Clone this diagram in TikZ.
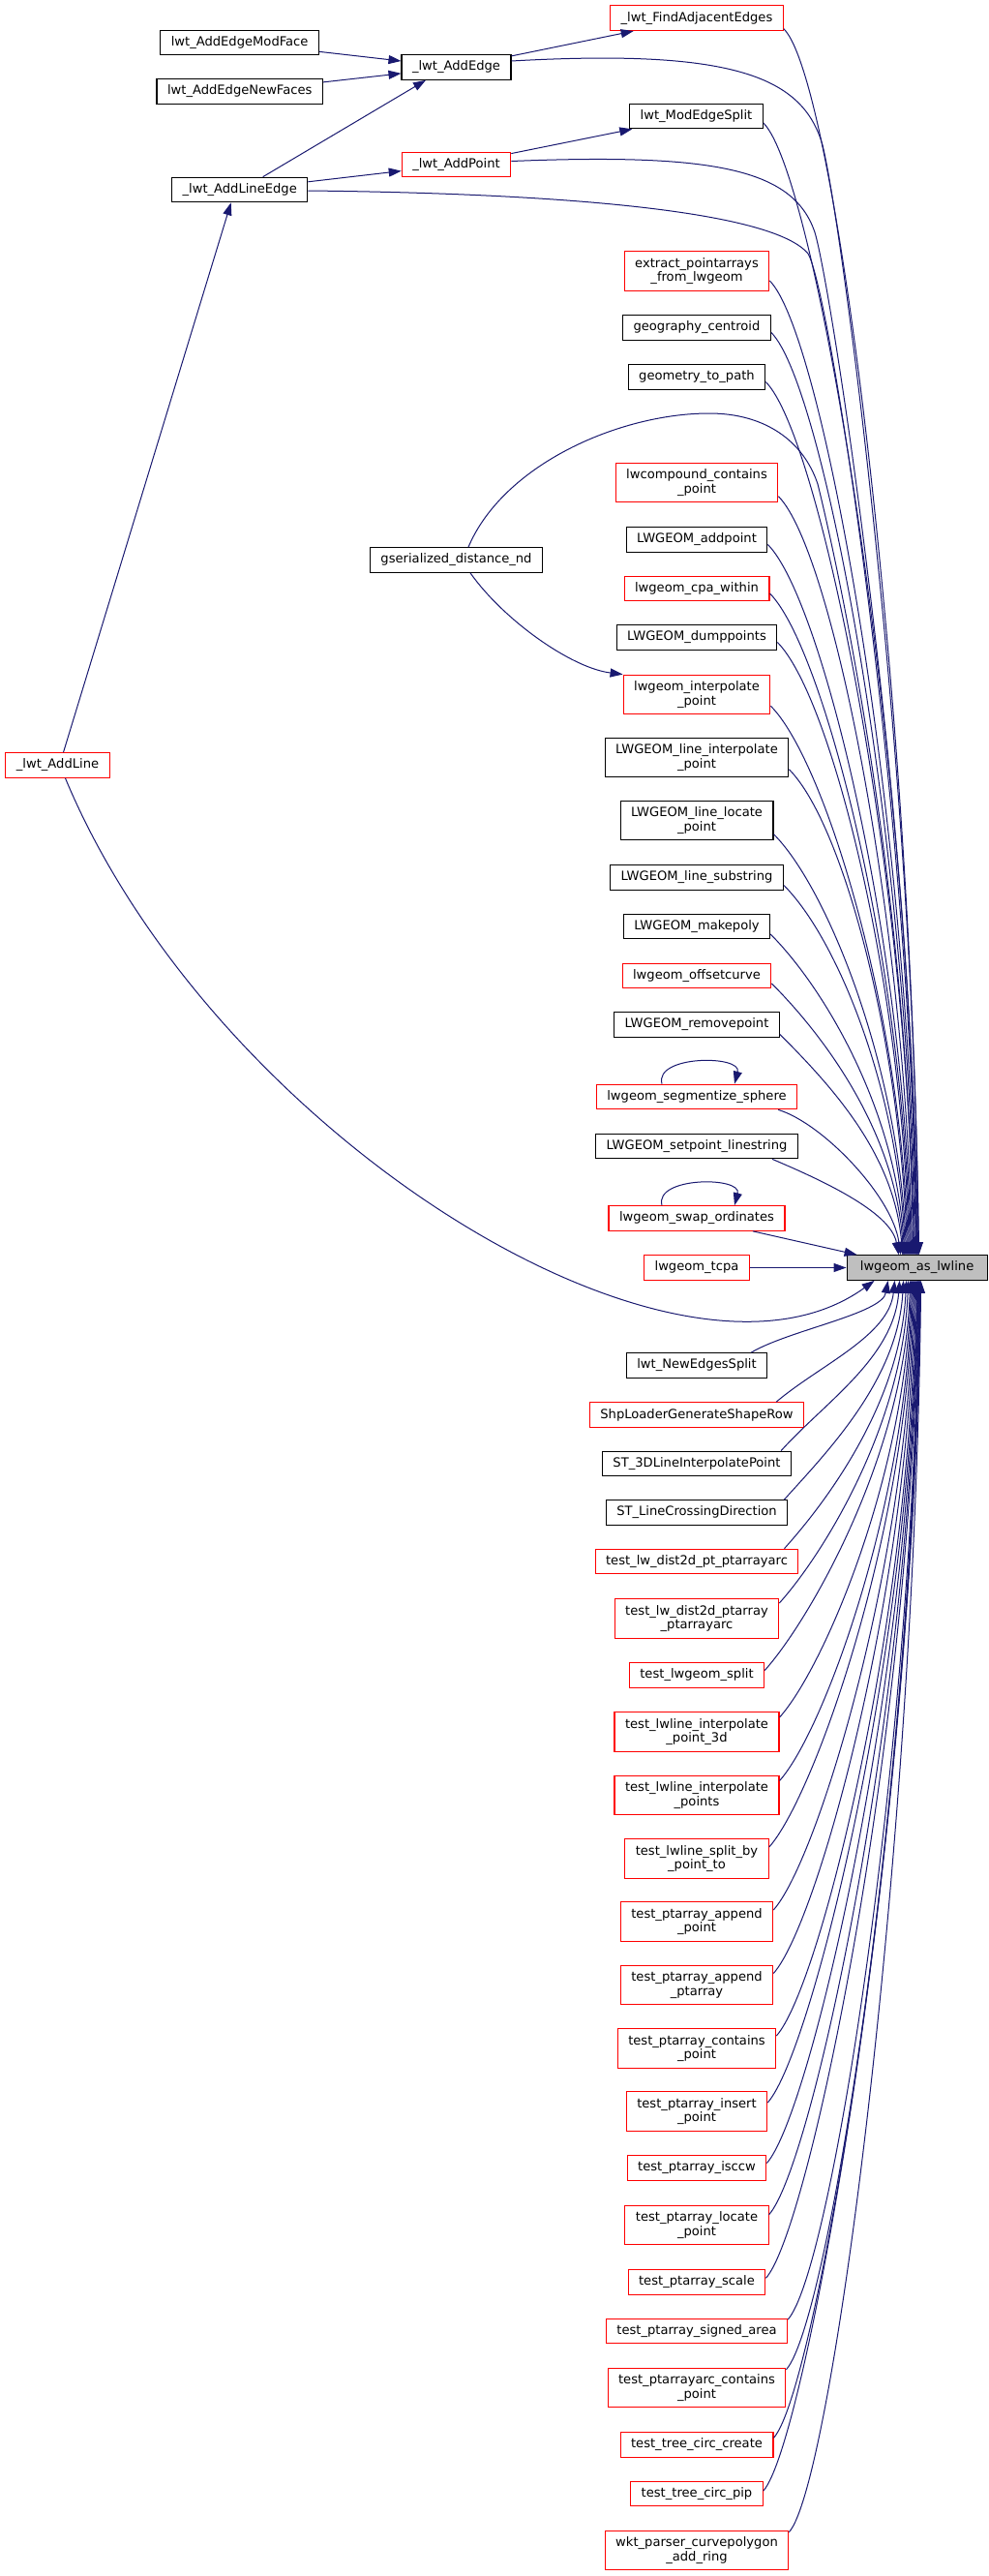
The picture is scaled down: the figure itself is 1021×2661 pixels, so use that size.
\documentclass[tikz,border=0pt]{standalone}
\usepackage{fontspec}
\setmainfont{DejaVu Sans}
\usetikzlibrary{arrows.meta,calc}
\definecolor{edgec}{HTML}{191970}
\definecolor{redc}{HTML}{FF0000}
\definecolor{mainfill}{HTML}{BFBFBF}
\begin{document}
\begin{tikzpicture}[x=1pt,y=-1pt,
  nbox/.style={draw=black, line width=1.1pt, fill=white, inner xsep=11pt, inner ysep=3pt,
    minimum height=25.6pt, align=center, text=black,
    font=\fontsize{13.1}{14.6}\selectfont},
  rbox/.style={nbox, draw=redc},
  two/.style={minimum height=40.3pt},
  mbox/.style={nbox, fill=mainfill, minimum width=145pt},
  conn/.style={draw=edgec, line width=1pt, -{Triangle[length=13pt,width=9pt]}}]
\fill[white] (0,0) rectangle (1021,2661);
\useasboundingbox (0,0) rectangle (1021,2661);

% ---- nodes
\node[rbox] (fae) at (720,18.7) {\_lwt\_FindAdjacentEdges};
\node[nbox] (mf) at (247.6,44) {lwt\_AddEdgeModFace};
\node[nbox] (ae) at (471.5,69.5) {\_lwt\_AddEdge};
\node[nbox] (nf) at (247.7,94.5) {lwt\_AddEdgeNewFaces};
\node[nbox] (mes) at (719.5,120) {lwt\_ModEdgeSplit};
\node[rbox] (ap) at (471.5,170) {\_lwt\_AddPoint};
\node[nbox] (ale) at (247.7,196) {\_lwt\_AddLineEdge};
\node[rbox,two] (epa) at (720,280) {extract\_pointarrays\\\_from\_lwgeom};
\node[nbox] (gc) at (720,338.5) {geography\_centroid};
\node[nbox] (gtp) at (720,389.5) {geometry\_to\_path};
\node[rbox,two] (lcc) at (720,498.7) {lwcompound\_contains\\\_point};
\node[nbox] (gsd) at (471.5,578.5) {gserialized\_distance\_nd};
\node[nbox] (lap) at (720,557.5) {LWGEOM\_addpoint};
\node[rbox] (lcw) at (720,608) {lwgeom\_cpa\_within};
\node[nbox] (ldp) at (720,658.5) {LWGEOM\_dumppoints};
\node[rbox,two] (lip) at (720,717.3) {lwgeom\_interpolate\\\_point};
\node[rbox] (al) at (59.5,790.5) {\_lwt\_AddLine};
\node[nbox,two] (llip) at (720,782.7) {LWGEOM\_line\_interpolate\\\_point};
\node[nbox,two] (llp) at (720,847.7) {LWGEOM\_line\_locate\\\_point};
\node[nbox] (lls) at (720,906.5) {LWGEOM\_line\_substring};
\node[nbox] (lmp) at (720,957) {LWGEOM\_makepoly};
\node[rbox] (loc) at (720,1008) {lwgeom\_offsetcurve};
\node[nbox] (lrp) at (720,1058.5) {LWGEOM\_removepoint};
\node[rbox] (lss) at (720,1133) {lwgeom\_segmentize\_sphere};
\node[nbox] (lsl) at (720,1184) {LWGEOM\_setpoint\_linestring};
\node[rbox] (lso) at (720,1258.5) {lwgeom\_swap\_ordinates};
\node[rbox] (lt) at (720,1309.5) {lwgeom\_tcpa};
\node[mbox] (main) at (947.6,1309.5) {lwgeom\_as\_lwline};
\node[nbox] (nes) at (720,1410.5) {lwt\_NewEdgesSplit};
\node[rbox] (shp) at (720,1461.5) {ShpLoaderGenerateShapeRow};
\node[nbox] (st3) at (720,1512) {ST\_3DLineInterpolatePoint};
\node[nbox] (stl) at (720,1562.5) {ST\_LineCrossingDirection};
\node[rbox] (t1) at (720,1613) {test\_lw\_dist2d\_pt\_ptarrayarc};
\node[rbox,two] (t2) at (720,1672) {test\_lw\_dist2d\_ptarray\\\_ptarrayarc};
\node[rbox] (t3) at (720,1730.5) {test\_lwgeom\_split};
\node[rbox,two] (t4) at (720,1789) {test\_lwline\_interpolate\\\_point\_3d};
\node[rbox,two] (t5) at (720,1854.5) {test\_lwline\_interpolate\\\_points};
\node[rbox,two] (t6) at (720,1920) {test\_lwline\_split\_by\\\_point\_to};
\node[rbox,two] (t7) at (720,1985) {test\_ptarray\_append\\\_point};
\node[rbox,two] (t8) at (720,2050.5) {test\_ptarray\_append\\\_ptarray};
\node[rbox,two] (t9) at (720,2116) {test\_ptarray\_contains\\\_point};
\node[rbox,two] (t10) at (720,2181) {test\_ptarray\_insert\\\_point};
\node[rbox] (t11) at (720,2239.5) {test\_ptarray\_isccw};
\node[rbox,two] (t12) at (720,2298.7) {test\_ptarray\_locate\\\_point};
\node[rbox] (t13) at (720,2357.3) {test\_ptarray\_scale};
\node[rbox] (t14) at (720,2408) {test\_ptarray\_signed\_area};
\node[rbox,two] (t15) at (720,2466.7) {test\_ptarrayarc\_contains\\\_point};
\node[rbox] (t16) at (720,2525.3) {test\_tree\_circ\_create};
\node[rbox] (t17) at (720,2576) {test\_tree\_circ\_pip};
\node[rbox,two] (t18) at (720,2634.7) {wkt\_parser\_curvepolygon\\\_add\_ring};

% ---- straight connectors on the left
\draw[conn] (mf) -- (ae);
\draw[conn] (nf) -- (ae);
\draw[conn] (ae) -- (fae);
\draw[conn] (ap) -- (mes);
\draw[conn] (ale) -- (ap);
\draw[conn] ([xshift=24pt]ale.north) -- ([xshift=-31.5pt]ae.south);
\draw[conn] ([xshift=6pt]al.north) -- ([xshift=-9pt]ale.south);

% ---- long curves from the left-hand callers
\draw[conn] ([yshift=6.5pt]ae.east) .. controls (760,50) and (830,80) .. (850,150)
   .. controls (870,230) and (945,800) .. ([xshift=1.5pt]main.north);
\draw[conn] ([yshift=3.5pt]ap.east) .. controls (740,158) and (820,175) .. (842,240)
   .. controls (860,300) and (944,850) .. ([xshift=0pt]main.north);
\draw[conn] ([yshift=-1pt]ale.east) .. controls (600,200) and (800,220) .. (835,262)
   .. controls (858,300) and (942,850) .. ([xshift=-0.5pt]main.north);
\draw[conn] ([xshift=12.5pt]gsd.north) .. controls (520,480) and (640,427) .. (733,427)
   .. controls (790,427) and (830,455) .. (845,500)
   .. controls (860,560) and (938,900) .. ([xshift=-4pt]main.north);
\draw[conn] ([xshift=14.5pt]gsd.south) .. controls (520,640) and (590,690) .. (lip.north west);
\draw[conn] ([xshift=8pt]al.south) .. controls (220,1170) and (700,1470) .. ([xshift=-44pt]main.south);

% ---- callers above the main node
\foreach \src/\cy/\dy/\tx in {fae/18.7/11/2, mes/120/7/1, epa/280/10/-1, gc/338.5/5/-2,
   gtp/389.5/5/-3, lcc/498.7/14/-5, lap/557.5/5/-6, lcw/608/5/-7, ldp/658.5/5/-8,
   lip/717.3/12/-9, llip/782.7/12/-10, llp/847.7/14/-11, lls/906.5/8/-12,
   lmp/957/8/-13, loc/1008/8/-14, lrp/1058.5/10/-15}{
  \pgfmathsetmacro\qD{1296.7-\cy-\dy}
  \pgfmathsetmacro\qax{min(55,0.5*\qD)}
  \pgfmathsetmacro\qay{\dy+min(55,0.3*\qD)}
  \pgfmathsetmacro\qbx{\tx-8}
  \pgfmathsetmacro\qby{-0.45*\qD}
  \draw[conn] ([yshift=-\dy pt]\src.east) .. controls ($(\src.east)+(\qax,\qay)$)
     and ($(main.north)+(\qbx,\qby)$) .. ([xshift=\tx pt]main.north);
}
\draw[conn] ([xshift=-20pt]lss.south east) .. controls ($(lss.south east)+(26,14)$)
   and ($(main.north)+(-25,-60)$) .. ([xshift=-17pt]main.north);
\draw[conn] ([xshift=-27pt]lsl.south east) .. controls ($(lsl.south east)+(20,20)$)
   and ($(main.north)+(-27,-45)$) .. ([xshift=-19pt]main.north);
\draw[conn] ([xshift=58pt]lso.south) -- ([xshift=-62pt]main.north);
\draw[conn] (lt) -- (main);

% ---- self loops
\draw[conn] ([xshift=-36pt]lss.north) .. controls ($(lss.north)+(-44,-30)$)
   and ($(lss.north)+(47,-30)$) .. ([xshift=39pt]lss.north);
\draw[conn] ([xshift=-36pt]lso.north) .. controls ($(lso.north)+(-44,-30)$)
   and ($(lso.north)+(47,-30)$) .. ([xshift=39pt]lso.north);

% ---- callers below the main node (leaving from the top edge)
\foreach \src/\sy/\sx/\tx in {nes/1397.7/17/-30, shp/1448.7/29/-23, st3/1499.2/11/-18,
   stl/1549.7/4/-14, t1/1600.2/15/-11}{
  \pgfmathsetmacro\qD{\sy-1321.7}
  \pgfmathsetmacro\qax{-\sx+min(45,0.5*\qD)}
  \pgfmathsetmacro\qay{-min(50,0.3*\qD)}
  \pgfmathsetmacro\qbx{\tx-6}
  \pgfmathsetmacro\qby{0.45*\qD}
  \draw[conn] ([xshift=-\sx pt]\src.north east) .. controls ($(\src.north east)+(\qax,\qay)$)
     and ($(main.south)+(\qbx,\qby)$) .. ([xshift=\tx pt]main.south);
}
% ---- callers below the main node (leaving from the right side)
\foreach \src/\cy/\dy/\tx in {t2/1672/16/-9, t3/1730.5/5/-7, t4/1789/15/-6, t5/1854.5/15/-5,
   t6/1920/12/-4, t7/1985/12/-3, t8/2050.5/12/-2, t9/2116/13/-1, t10/2181/9/0,
   t11/2239.5/5/0.5, t12/2298.7/11/1, t13/2357.3/4/1.5, t14/2408/12/2, t15/2466.7/19/2.5,
   t16/2525.3/7/3, t17/2576/3/3.5, t18/2634.7/19/4}{
  \pgfmathsetmacro\qD{\cy-\dy-1321.7}
  \pgfmathsetmacro\qax{min(45,0.5*\qD)}
  \pgfmathsetmacro\qay{-\dy-min(50,0.3*\qD)}
  \pgfmathsetmacro\qbx{\tx-6}
  \pgfmathsetmacro\qby{0.45*\qD}
  \draw[conn] ([yshift=\dy pt]\src.east) .. controls ($(\src.east)+(\qax,\qay)$)
     and ($(main.south)+(\qbx,\qby)$) .. ([xshift=\tx pt]main.south);
}
\end{tikzpicture}
\end{document}
